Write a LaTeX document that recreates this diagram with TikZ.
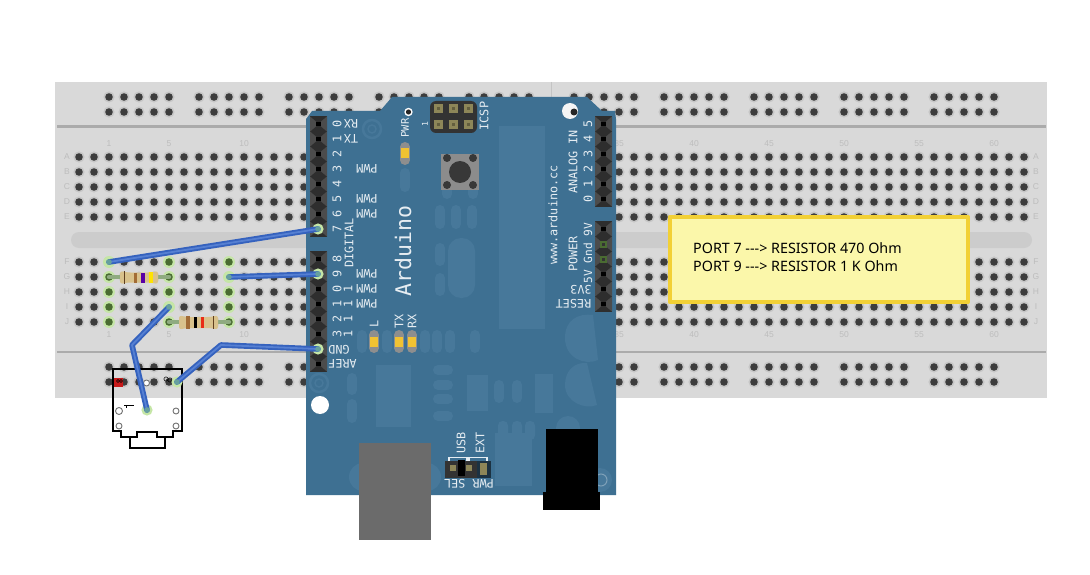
\documentclass[tikz,border=0pt]{standalone}
\usepackage{fontspec}
\newfontfamily\monof{DejaVu Sans Mono}
\newfontfamily\notef{Noto Sans}
\newfontfamily\bbf{Liberation Sans}
\definecolor{bb}{HTML}{D9D9D9}
\definecolor{bbline}{HTML}{ABABAB}
\definecolor{halo}{HTML}{C6C6C6}
\definecolor{holec}{HTML}{3D3D3D}
\definecolor{bblabel}{HTML}{BDBDBD}
\definecolor{ard}{HTML}{3E7092}
\definecolor{ardl}{HTML}{47789A}
\definecolor{ardt}{HTML}{E6EDF2}
\definecolor{glow}{HTML}{C5E6A6}
\definecolor{gdot}{HTML}{4A6C32}
\definecolor{wire}{HTML}{3562BE}
\definecolor{wirel}{HTML}{5680D2}
\definecolor{wend}{HTML}{66A09E}
\definecolor{led}{HTML}{F1C232}
\definecolor{ledg}{HTML}{8E8E8E}
\definecolor{tan1}{HTML}{D9C28C}
\definecolor{tan2}{HTML}{8D8658}
\definecolor{lead}{HTML}{8FAB80}
\definecolor{notestroke}{HTML}{F2D035}
\definecolor{notefill}{HTML}{FBF7AA}
\definecolor{pinlo}{HTML}{2E2E2E}
\definecolor{pinhi}{HTML}{4C4C4C}
\tikzset{
  x=1pt,y=-1pt,
  mono/.style={font=\monof\fontsize{11.8}{12}\selectfont,text=ardt,inner sep=0pt},
  r90/.style={mono,rotate=90},
  r180/.style={mono,rotate=180},
  bblab/.style={font=\bbf\fontsize{8.5}{9}\selectfont,text=bblabel,inner sep=0pt},
  wireo/.style={draw=wire,line width=5.6pt,line join=round,line cap=round},
  wirei/.style={draw=wirel,line width=1.8pt,line join=round,line cap=round},
  pillst/.style={line width=10pt,line cap=round,draw=ardl},
}
\newcommand{\vpill}[3]{\draw[pillst] (#1,#2+5) -- (#1,#3-5);}
\newcommand{\hpill}[3]{\draw[pillst] (#1+5,#3) -- (#2-5,#3);}
\newcommand{\hole}[2]{\fill[halo] (#1,#2) circle (5.6);\fill[holec] (#1,#2) circle (3.8);}
\newcommand{\ghole}[2]{\fill[glow] (#1,#2) circle (6);\fill[gdot] (#1,#2) circle (3.8);}
\newcommand{\pincell}[2]{%
  \fill[pinlo] (#1-8.5,#2-7.6) rectangle (#1+8.5,#2+7.6);
  \fill[pinhi] (#1-8.5,#2-7.6) -- (#1-2,#2-2) -- (#1-2,#2+2) -- (#1-8.5,#2+7.6) -- cycle;
  \fill[pinhi] (#1+8.5,#2-7.6) -- (#1+2,#2-2) -- (#1+2,#2+2) -- (#1+8.5,#2+7.6) -- cycle;
  \fill[black] (#1-2.2,#2-2.2) rectangle (#1+2.2,#2+2.2);}
\newcommand{\ledp}[2]{\draw[line width=10pt,line cap=round,draw=ledg] (#1,#2+5) -- (#1,#2+18);
  \fill[led] (#1-4,#2+6.5) rectangle (#1+4,#2+16.5);}
\begin{document}
\begin{tikzpicture}
\useasboundingbox (0,0) rectangle (1090,575);
\fill[white] (0,0) rectangle (1090,575);
% ---------- breadboard
\fill[bb] (55,82) rectangle (1047,398);
\draw[bbline,line width=2.4pt] (57,126.5) -- (1046,126.5);
\draw[bbline,line width=2.4pt] (57,352) -- (1046,352);
\draw[bbline!70,line width=1pt] (551,82) -- (551,126);
\fill[black!20,rounded corners=8pt] (71,232) rectangle (1032,248);
% main field
\foreach \yy in {157,172,187,202,217,262,277,292,307,322}{
  \foreach \n in {-1,...,62}{ \pgfmathsetmacro{\xx}{94+15*\n} \hole{\xx}{\yy} }
}
% rails
\foreach \yy in {97,112,367,382}{
  \foreach \gx in {109,199,289,379,469,574,664,754,844,934}{
    \foreach \k in {0,...,4}{ \pgfmathsetmacro{\xx}{\gx+15*\k} \hole{\xx}{\yy} }
  }
}
% labels
\foreach \n/\t in {1/1,5/5,10/10,35/35,40/40,45/45,50/50,55/55,60/60}{
  \pgfmathsetmacro{\xx}{94+15*\n}
  \node[bblab] (nt\n) at (\xx,144) {\t};
  \node[bblab] (nb\n) at (\xx,335) {\t};
}
\foreach \yy/\t in {157/A,172/B,187/C,202/D,217/E,262/F,277/G,292/H,307/I,322/J}{
  \node[bblab] (ll\t) at (67,\yy) {\t};
  \node[bblab] (lr\t) at (1036,\yy) {\t};
}
% connected holes
\foreach \yy in {262,277,292,307,322}{\ghole{109}{\yy}\ghole{229}{\yy}}
\foreach \yy in {262,277,292,307,322}{\ghole{169}{\yy}}
% ---------- resistors
\draw[lead,line width=4.5pt,line cap=round] (109,277) -- (169,277);
\draw[lead,line width=4.5pt,line cap=round] (169,322) -- (229,322);
\fill[tan1,rounded corners=2.5pt] (120,271) -- (128,272.5) -- (150,272.5) -- (158,271) -- (158,284) -- (150,282.5) -- (128,282.5) -- (120,284) -- cycle;
\fill[black!50!brown] (124,271.2) rectangle (125,283.8);
\fill[brown!85!black] (133.5,272.5) rectangle (137,282.5);
\fill[violet!70!blue] (141,272.5) rectangle (145,282.5);
\fill[yellow!85!orange] (149,272) rectangle (153,283);
\fill[tan1,rounded corners=2.5pt] (179,315.5) -- (187,317) -- (210,317) -- (218,315.5) -- (218,329.5) -- (210,328) -- (187,328) -- (179,329.5) -- cycle;
\fill[brown!85!black] (185.5,316) rectangle (189.5,329);
\fill[black] (193.5,317) rectangle (197,328);
\fill[red!65!brown] (200.5,317) rectangle (204,328);
\fill[black!50!brown] (213,316) rectangle (214,329);
% ---------- Arduino
\fill[ard] (306,119) -- (312,111) -- (380,111) -- (392,97) -- (587,97) -- (602,111) -- (615,111) -- (616,119) -- (616,495) -- (306,495) -- cycle;
% board shapes
\fill[ardl] (499,126) rectangle (545,329);
\fill[ardl] (376,365) rectangle (411,427);
\fill[ardl] (467,375) rectangle (488,411);
\fill[ardl] (535,374) rectangle (553,413);
\fill[ardl,rounded corners=13pt] (448,238) rectangle (475,298);
\vpill{405}{168}{192}
\vpill{447}{180}{199}
\vpill{473}{180}{199}
\vpill{440}{205}{229}\vpill{456}{205}{229}\vpill{472}{205}{229}
\vpill{440}{243}{266}\vpill{440}{273}{296}
\foreach \xx in {362,387,425,437,450,475}{\vpill{\xx}{330}{353}}
\vpill{352}{373}{395}\vpill{352}{399}{423}
\vpill{499}{380}{403}\vpill{517}{380}{403}
\foreach \yy in {370,385,399,416}{\hpill{433}{453}{\yy}}
\fill[ardl] (593,315) -- (598,360) .. controls (585,366) and (565,358) .. (565,338) .. controls (565,320) and (578,313) .. (593,315) -- cycle;
\fill[ardl] (587,363) -- (597,405) .. controls (585,410) and (565,402) .. (565,385) .. controls (565,370) and (575,362) .. (587,363) -- cycle;
\fill[ardl,rounded corners=14pt] (349,463) rectangle (441,491);
\fill[ardl] (495,433) rectangle (532,486);
\foreach \xx in {503,517,530}{\fill[ardl,rounded corners=4.5pt] (\xx-5,421) rectangle (\xx+5,440);}
\fill[ardl] (568,428) circle (12);
\fill[ardl] (600,480) circle (12);
\draw[ardl!70!white,line width=1pt] (601,480) circle (6);
\draw[ardl,line width=2.5pt] (372,129) circle (9);
\draw[ardl,line width=1.5pt] (372,129) circle (4);
\draw[ardl,line width=2.5pt] (319,383) circle (9);
\draw[ardl,line width=1.5pt] (319,383) circle (4);
% mounting holes
\fill[white] (320,405) circle (9);
\fill[white!92!gray] (570,111) circle (8);
\fill[black!85] (574,112) circle (3.5);
\fill[white] (408.5,112) circle (4.2);
\fill[black!85] (408.5,112) circle (2.6);
% headers
\foreach \yy in {124,139,...,229}{\pincell{318.5}{\yy}}
\foreach \yy in {259,274,...,364}{\pincell{318.5}{\yy}}
\foreach \yy in {124,139,...,199}{\pincell{603.5}{\yy}}
\foreach \yy in {229,244,...,304}{\pincell{603.5}{\yy}}
\foreach \yy in {244,259}{\fill[gdot] (600,\yy-3.5) rectangle (607,\yy+3.5);\fill[black!80] (602,\yy-1.5) rectangle (605,\yy+1.5);}
% ICSP
\fill[black!80,rounded corners=6pt] (430,101) rectangle (477,133);
\foreach \xx in {438,453,468}{\foreach \yy in {109,125}{
  \fill[tan2] (\xx-4.5,\yy-4.5) rectangle (\xx+4.5,\yy+4.5);
  \fill[tan2!70!black] (\xx-1.5,\yy-1.5) rectangle (\xx+1.5,\yy+1.5);}}
\node[r90] (icsp) at (484,116) {ICSP};
\node[r90,font=\monof\fontsize{8}{8}\selectfont] (one) at (425,124) {1};
% button
\fill[black!45] (441,154) rectangle (479,190);
\fill[black!78] (460,172) circle (11);
\foreach \xx in {447,473}{\foreach \yy in {158,185}{\fill[black!78] (\xx,\yy) circle (4);}}
% LEDs
\ledp{405}{142}
\ledp{374}{330}\ledp{399}{330}\ledp{412}{330}
% USB, jack
\fill[black!58] (359,443) rectangle (431,540);
\fill[black] (546,429) rectangle (598,492);
\fill[black] (543,492) rectangle (600,510);
% power select
\fill[black!55!ard] (477,461) rectangle (491,478);
\fill[black!80] (445,461) rectangle (477,478);
\fill[tan2] (450,465) rectangle (456,471);
\fill[tan2] (466,465) rectangle (472,471);
\fill[tan2] (480,463) rectangle (487,475);
\fill[black] (457.5,460) rectangle (464.5,476);
\draw[ardt,line width=1.2pt] (449,461) -- (449,457.5) -- (467,457.5) -- (467,461);
\draw[ardt,line width=1.2pt] (469,461) -- (469,457.5) -- (487,457.5) -- (487,461);
% texts
\node[r90,font=\monof\fontsize{21.5}{22}\selectfont] (arduinoT) at (403,251) {Arduino};
\node[r90,font=\monof\fontsize{10.5}{11}\selectfont] (pwrT) at (405,128) {PWR};
\node[r90] (digitalT) at (349,243) {DIGITAL};
\node[r90] (analogT) at (573,162) {ANALOG IN};
\node[r90] (wwwT) at (553,215) {www.arduino.cc};
\node[r90] (powerT) at (573,254) {POWER};
\node[r90,font=\monof\fontsize{11.2}{12}\selectfont] (vT) at (588,253) {5V Gnd 9V};
\node[r90] (lT) at (374,324) {L};
\node[r90] (txT) at (399,321) {TX};
\node[r90] (rxT) at (412,321) {RX};
\node[r90] (usbT) at (461,443) {USB};
\node[r90] (extT) at (480,443) {EXT};
\node[r180] (pselT) at (469,484) {PWR SEL};
\node[r180] (rxL) at (351,124) {RX};
\node[r180] (txL) at (351,139) {TX};
\foreach \yy in {169,199,214,274,289,304}{\node[r180] (pwm\yy) at (367,\yy) {PWM};}
\node[r180] (gndL) at (339,350) {GND};
\node[r180] (arefL) at (342.5,364) {AREF};
\node[r180] (vvL) at (581,289.5) {3V3};
\node[r180] (rstL) at (573.5,304) {RESET};
\foreach \yy/\t [count=\i] in {124/0,139/1,154/2,169/3,184/4,199/5,214/6,229/7,259/8,274/9,289/0,304/1,319/2,334/3}{
  \node[r90] (dg\i) at (337,\yy) {\t};}
\foreach \yy [count=\i] in {289,304,319,334}{\node[r90] (dt\i) at (348,\yy) {1};}
\foreach \yy/\t [count=\i] in {124/5,139/4,154/3,169/2,184/1,199/0}{\node[r90] (an\i) at (588,\yy) {\t};}
% ---------- component outline
\draw[black,line width=1.6pt,line join=miter] (113,369) -- (182,369) -- (182,431) -- (173,431) -- (173,437) -- (157,437) -- (157,432) -- (137,432) -- (137,437) -- (121,437) -- (121,431) -- (113,431) -- cycle;
\draw[black,line width=1.6pt] (130,437) -- (130,448) -- (165,448) -- (165,437);
\fill[red!75!black!90!white] (114,377.5) rectangle (123,387);
\draw[black,line width=.5pt] (118,381) circle (1.6);\draw[black,line width=.5pt] (121,381) circle (1.6);
\draw[black,line width=.5pt] (166,379) circle (2.1);\draw[black,line width=.5pt] (170,380) circle (2.1);
\draw[black!55,line width=.9pt,fill=white] (146.5,383) circle (3);
\draw[black!55,line width=.9pt,fill=white] (119,411) circle (3.5);
\draw[black!55,line width=.9pt,fill=white] (119,426) circle (3);
\draw[black!55,line width=.9pt,fill=white] (176,411) circle (3);
\draw[black!55,line width=.9pt,fill=white] (176,426) circle (3);
\draw[black,line width=.8pt] (124,405.5) -- (134,405.5) (126,405.5) -- (126,408);
% ---------- wires
\coordinate (a7) at (318,229);
\coordinate (a9) at (318,274);
\coordinate (agnd) at (318,349);
\coordinate (f1) at (109,262);
\coordinate (g9) at (229,277);
\coordinate (i5) at (169,307);
\coordinate (b1) at (132,345);
\coordinate (c1) at (147,410);
\coordinate (c2) at (177,382);
\coordinate (b2) at (221,345);
\foreach \p in {a7,a9,agnd,f1,g9,i5,c1,c2}{\fill[glow] (\p) circle (5.6);}
\draw[wireo] (f1) -- (a7);
\draw[wireo] (g9) -- (a9);
\draw[wireo] (i5) -- (b1) -- (c1);
\draw[wireo] (c2) -- (b2) -- (agnd);
\draw[wirei] (f1) -- (a7);
\draw[wirei] (g9) -- (a9);
\draw[wirei] (i5) -- (b1) -- (c1);
\draw[wirei] (c2) -- (b2) -- (agnd);
\foreach \p in {a7,a9,agnd,f1,g9,i5,c1,c2}{\fill[wend] (\p) circle (2.8);}
% ---------- note
\draw[draw=notestroke,fill=notefill,line width=4.6pt,line join=round] (670,217) rectangle (968,302);
\node[anchor=west,align=left,inner sep=0pt,font=\notef\fontsize{14.3}{18}\selectfont,text=black] (noteT) at (693,257) {PORT 7 ---> RESISTOR 470 Ohm\\PORT 9 ---> RESISTOR 1 K Ohm};
\end{tikzpicture}
\end{document}
